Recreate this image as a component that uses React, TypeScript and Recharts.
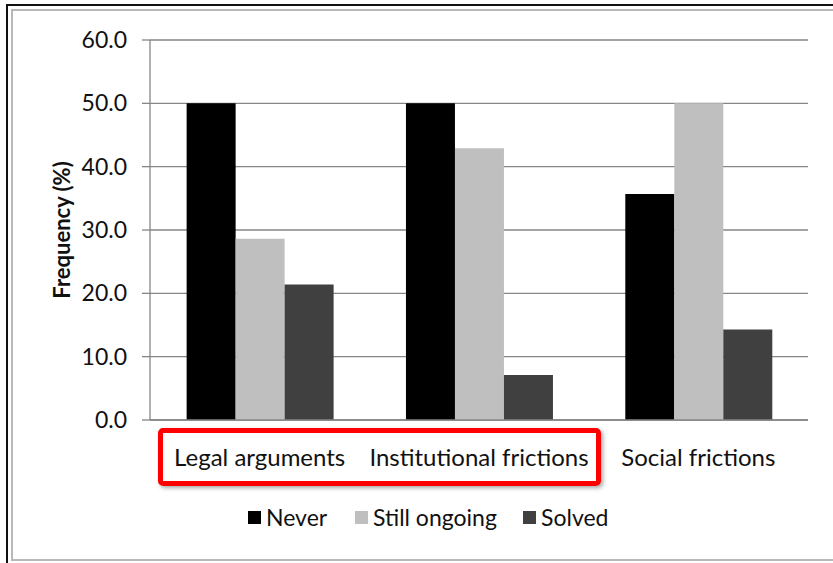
import React from 'react';
import { BarChart, Bar, XAxis, YAxis, CartesianGrid } from 'recharts';

// Categories and series values (percent)
const categories = ['Legal arguments', 'Institutional frictions', 'Social frictions'];
const neverValues = [50.0, 50.0, 35.7];
const ongoingValues = [28.6, 42.9, 50.0];
const solvedValues = [21.4, 7.1, 14.3];
const yTicks = [0, 10, 20, 30, 40, 50, 60];
const categoryBounds = [0, 1, 2, 3];

const seriesNames = ['Never', 'Still ongoing', 'Solved'];
const seriesKeys = ['never', 'ongoing', 'solved'];
const seriesColors = ['#000000', '#bfbfbf', '#404040'];

const data = categories.map((name, i) => ({
  name,
  idx: i + 0.5,
  never: neverValues[i],
  ongoing: ongoingValues[i],
  solved: solvedValues[i],
}));

const FONT = 'Lato, "Noto Sans", sans-serif';
const AXIS_COLOR = '#868686';

const W = 833;
const H = 563;

// left edge of each legend entry
const legendLefts = [248, 355, 523];

export default function App() {
  return (
    <div style={{ position: 'absolute', left: 0, top: 0, width: W, height: H, background: '#fff', overflow: 'hidden', fontFamily: FONT }}>
      {/* frame */}
      <div style={{ position: 'absolute', left: 6, top: 4, width: W + 20, height: H + 20, border: '2px solid #111', boxSizing: 'border-box' }} />
      <div style={{ position: 'absolute', left: 11, top: 9, width: W + 20, height: 552, border: '2px solid #b8b8b8', boxSizing: 'border-box' }} />

      <div style={{ position: 'absolute', left: 0, top: 0 }}>
        <BarChart
          width={W}
          height={H}
          data={data}
          margin={{ top: 40, right: 25, bottom: 103, left: 60 }}
          barCategoryGap="16.7%"
          barGap={0}
        >
          <CartesianGrid horizontal vertical={false} stroke={AXIS_COLOR} strokeWidth={1.3} />
          {/* tick marks at the category boundaries */}
          <XAxis
            xAxisId="bounds"
            type="number"
            dataKey="idx"
            domain={[0, 3]}
            ticks={categoryBounds}
            interval={0}
            height={0}
            axisLine={false}
            tickLine={{ stroke: AXIS_COLOR, strokeWidth: 1.3 }}
            tickSize={8}
            tick={false}
          />
          <XAxis
            dataKey="name"
            height={40}
            axisLine={{ stroke: AXIS_COLOR, strokeWidth: 1.3 }}
            tickLine={false}
            interval={0}
            tick={{ fill: '#111', fontSize: 24, fontFamily: FONT }}
            dy={21}
          />
          <YAxis
            domain={[0, 60]}
            ticks={yTicks}
            width={90}
            interval={0}
            tickFormatter={(v: number) => v.toFixed(1)}
            axisLine={{ stroke: AXIS_COLOR, strokeWidth: 1.3 }}
            tickLine={{ stroke: AXIS_COLOR, strokeWidth: 1.3 }}
            tickSize={8}
            tickMargin={15}
            tick={{ fill: '#111', fontSize: 23, fontFamily: FONT }}
            label={{
              value: 'Frequency (%)',
              angle: -90,
              position: 'insideLeft',
              offset: 2,
              style: { textAnchor: 'middle', fontWeight: 700, fontSize: 22, fill: '#111', fontFamily: FONT },
            }}
          />
          {seriesKeys.map((k, i) => (
            <Bar key={k} dataKey={k} name={seriesNames[i]} fill={seriesColors[i]} isAnimationActive={false} />
          ))}
        </BarChart>
      </div>

      {/* highlight box around the first two category labels */}
      <div
        style={{
          position: 'absolute',
          left: 158,
          top: 428,
          width: 443,
          height: 58,
          border: '5px solid #ff0000',
          borderRadius: 5,
          boxSizing: 'border-box',
          boxShadow: '2px 2px 4px rgba(0,0,0,0.35)',
        }}
      />

      {/* legend */}
      {seriesNames.map((n, i) => (
        <div key={n} style={{ position: 'absolute', left: legendLefts[i], top: 503, display: 'flex', alignItems: 'center', whiteSpace: 'nowrap' }}>
          <span style={{ display: 'inline-block', width: 13, height: 13, background: seriesColors[i], marginRight: 5 }} />
          <span style={{ fontSize: 23, color: '#111', fontFamily: FONT }}>{n}</span>
        </div>
      ))}
    </div>
  );
}
